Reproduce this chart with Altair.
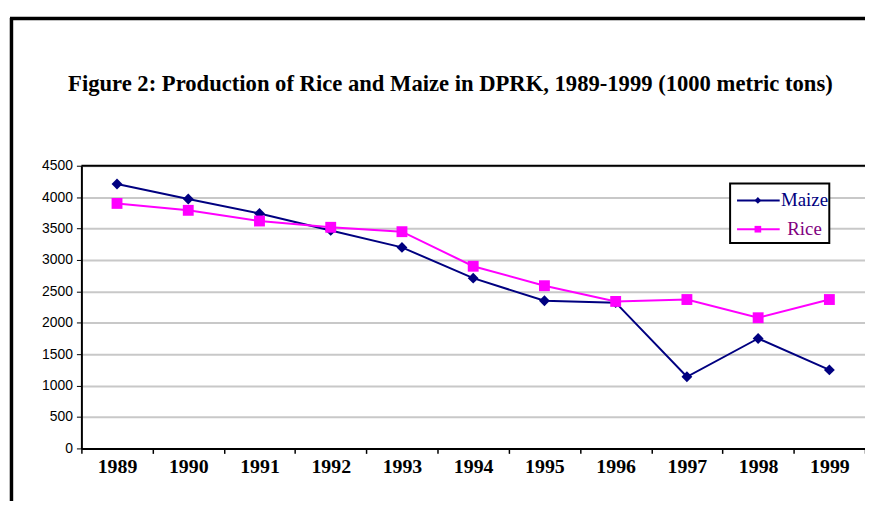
import altair as alt
import pandas as pd

years = ["1989", "1990", "1991", "1992", "1993", "1994", "1995", "1996", "1997", "1998", "1999"]
maize = [4210, 3970, 3740, 3470, 3200, 2710, 2350, 2320, 1140, 1750, 1250]
rice = [3900, 3790, 3620, 3520, 3450, 2900, 2590, 2340, 2370, 2080, 2370]
series = ["Maize", "Rice"]
line_colors = ["#000080", "#FF00FF"]
label_colors = ["#000080", "#800080"]
shapes = ["diamond", "square"]
title_text = "Figure 2: Production of Rice and Maize in DPRK, 1989-1999 (1000 metric tons)"
y_ticks = list(range(0, 4501, 500))

W, H = 790, 285

df = pd.DataFrame({
    "year": years * 2,
    "value": maize + rice,
    "series": ["Maize"] * len(years) + ["Rice"] * len(years),
})

x_enc = alt.X("year:O", sort=years,
              scale=alt.Scale(type="band", paddingInner=0, paddingOuter=0),
              axis=alt.Axis(title=None, labelAngle=0, labelFont="Liberation Serif",
                            labelFontWeight="bold", labelFontSize=20, labelColor="black",
                            labelPadding=3, tickBand="extent", tickSize=5, tickColor="black",
                            tickWidth=1.5, domainColor="black", domainWidth=2))
y_enc = alt.Y("value:Q", scale=alt.Scale(domain=[0, 4500], nice=False),
              axis=alt.Axis(title=None, values=y_ticks, format="d", grid=True, gridColor="#c8c8c8",
                            gridWidth=2, labelFont="Liberation Sans", labelFontSize=14,
                            labelColor="black", labelPadding=4, tickSize=5, tickColor="black",
                            domainColor="black", domainWidth=2))
color_enc = alt.Color("series:N", scale=alt.Scale(domain=series, range=line_colors), legend=None)
shape_enc = alt.Shape("series:N", scale=alt.Scale(domain=series, range=shapes), legend=None)

base = alt.Chart(df)
lines = base.mark_line(strokeWidth=2).encode(x=x_enc, y=y_enc, color=color_enc, detail="series:N")
points = base.mark_point(filled=True, opacity=1, size=120).encode(
    x=x_enc, y=y_enc, color=color_enc, shape=shape_enc)

one = alt.Chart(pd.DataFrame({"a": [0]}))

# chart frame (Excel chart-area border)
frame_left = one.mark_rule(color="black", strokeWidth=3.5, clip=False).encode(
    x=alt.value(-70.5), y=alt.value(-149), y2=alt.value(400))
frame_top = one.mark_rule(color="black", strokeWidth=3.5, clip=False).encode(
    x=alt.value(-72), x2=alt.value(900), y=alt.value(-148.5))
# plot-area top border
plot_top = one.mark_rule(color="black", strokeWidth=2, clip=False).encode(
    x=alt.value(0), x2=alt.value(W), y=alt.value(0))

title = one.mark_text(font="Liberation Serif", fontWeight="bold", fontSize=22.8,
                      color="black", align="center", baseline="middle").encode(
    x=alt.value(372), y=alt.value(-82), text=alt.value(title_text))

# legend
leg_box = one.mark_rect(fill="white", stroke="black", strokeWidth=2).encode(
    x=alt.value(654), x2=alt.value(754), y=alt.value(18), y2=alt.value(78))
leg_layers = [leg_box]
for i, (s, lc, tc, sh) in enumerate(zip(series, line_colors, label_colors, shapes)):
    yy = 35 + i * 29
    leg_layers.append(one.mark_rule(color=lc, strokeWidth=2).encode(
        x=alt.value(661), x2=alt.value(704), y=alt.value(yy)))
    leg_layers.append(one.mark_point(filled=True, opacity=1, color=lc, shape=sh, size=45).encode(
        x=alt.value(682), y=alt.value(yy)))
    leg_layers.append(one.mark_text(font="Liberation Serif", fontSize=19, color=tc,
                                    align="center", baseline="middle").encode(
        x=alt.value(729), y=alt.value(yy), text=alt.value(s)))

chart = alt.layer(frame_left, frame_top, plot_top, lines, points, title, *leg_layers).properties(
    width=W, height=H,
    autosize=alt.AutoSizeParams(type="none"),
    padding={"left": 74, "top": 157, "right": 0, "bottom": 51},
).configure_view(stroke=None).configure(background="white")

chart.save("out.html", embed_options={"renderer": "svg", "actions": False})
